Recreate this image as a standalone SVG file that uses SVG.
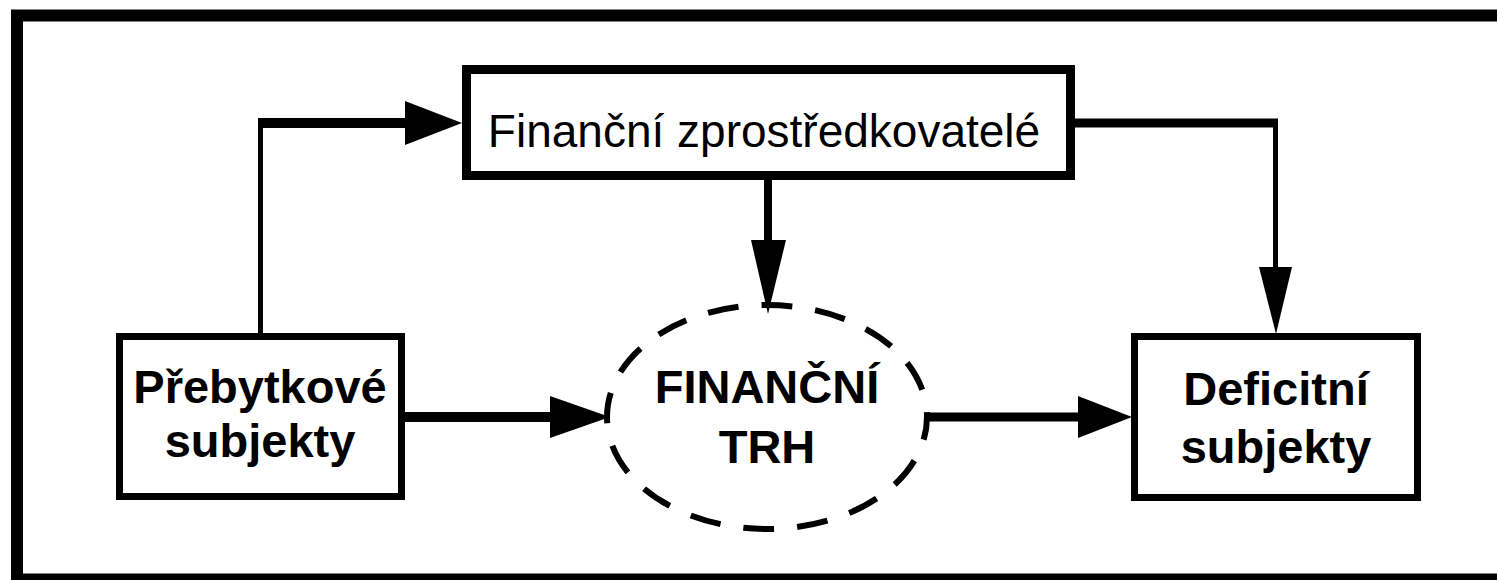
<svg xmlns="http://www.w3.org/2000/svg" width="1497" height="580" viewBox="0 0 1497 580">
<style>
.box{fill:#fff;stroke:#000;stroke-width:7}
.lbl{font-family:"Liberation Sans",Arial,sans-serif;font-size:46px;fill:#000;text-anchor:middle}
.b{font-weight:bold;font-size:47px}
.thick{fill:none;stroke:#000;stroke-width:10}
.thin{fill:none;stroke:#000;stroke-width:5}
.head{fill:#000}
.dash{fill:none;stroke:#000;stroke-width:6;stroke-dasharray:31 23}
</style>
<rect x="0" y="0" width="1497" height="580" fill="#fff"/>
<rect id="frame" x="17" y="15.5" width="1500" height="564" fill="none" stroke="#000" stroke-width="12"/>
<g id="connectors">
  <path class="thin" d="M260.5 334 V123"/>
  <path class="thick" d="M258 123 H410"/>
  <polygon class="head" points="405,101 462,123 405,145"/>
  <path class="thick" d="M1074 123 H1278" style="stroke-width:9"/>
  <path class="thin" d="M1275.5 120 V272"/>
  <polygon class="head" points="1259,267 1292,267 1276,334"/>
  <path class="thick" d="M768 180 V245" style="stroke-width:8"/>
  <polygon class="head" points="751,240 786,240 768,314"/>
  <path class="thick" d="M404 417 H555"/>
  <polygon class="head" points="550,396 610,417 550,438"/>
  <path class="thick" d="M924 417 H1082" style="stroke-width:9"/>
  <polygon class="head" points="1078,396 1132,417 1078,438"/>
</g>
<g id="zprostredkovatele">
  <rect class="box" x="466.5" y="69.5" width="604" height="106" style="stroke-width:9"/>
  <text class="lbl" x="764" y="147">Finanční zprostředkovatelé</text>
</g>
<g id="prebytkove">
  <rect class="box" x="119.5" y="336.5" width="282" height="160"/>
  <text class="lbl b" x="260" y="403">Přebytkové</text>
  <text class="lbl b" x="260" y="457">subjekty</text>
</g>
<g id="trh">
  <ellipse class="dash" cx="767" cy="417" rx="160" ry="112" stroke-dashoffset="8"/>
  <text class="lbl b" x="767" y="403">FINANČNÍ</text>
  <text class="lbl b" x="767" y="463">TRH</text>
</g>
<g id="deficitni">
  <rect class="box" x="1134.5" y="336.5" width="283" height="161"/>
  <text class="lbl b" x="1276" y="405">Deficitní</text>
  <text class="lbl b" x="1276" y="463">subjekty</text>
</g>
</svg>
